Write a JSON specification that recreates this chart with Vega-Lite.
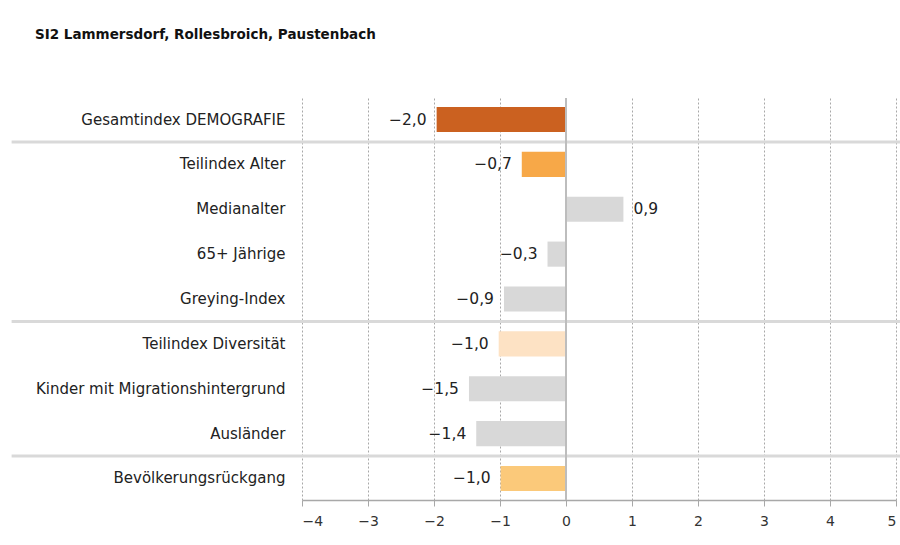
{
  "$schema": "https://vega.github.io/schema/vega-lite/v6.json",
  "autosize": "none",
  "width": 594,
  "height": 402,
  "padding": {"left": 302, "top": 98, "right": 4, "bottom": 45},
  "background": "white",
  "config": {
    "font": "DejaVu Sans",
    "view": {"stroke": null},
    "locale": {"number": {"decimal": ",", "thousands": ".", "grouping": [3], "currency": ["", " €"], "minus": "−"}}
  },
  "title": {
    "text": "SI2 Lammersdorf, Rollesbroich, Paustenbach",
    "anchor": "start",
    "frame": "group",
    "dx": -267,
    "offset": 56,
    "fontSize": 13.5,
    "fontWeight": "bold",
    "color": "#111111"
  },
  "data": {
    "values": [
      {"cat": "Gesamtindex DEMOGRAFIE", "value": -1.96, "sep": "yes"},
      {"cat": "Teilindex Alter", "value": -0.67, "sep": "no"},
      {"cat": "Medianalter", "value": 0.87, "sep": "no"},
      {"cat": "65+ Jährige", "value": -0.28, "sep": "no"},
      {"cat": "Greying-Index", "value": -0.94, "sep": "yes"},
      {"cat": "Teilindex Diversität", "value": -1.02, "sep": "no"},
      {"cat": "Kinder mit Migrationshintergrund", "value": -1.47, "sep": "no"},
      {"cat": "Ausländer", "value": -1.36, "sep": "yes"},
      {"cat": "Bevölkerungsrückgang", "value": -0.99, "sep": "no"}
    ]
  },
  "encoding": {
    "y": {
      "field": "cat",
      "type": "nominal",
      "sort": null,
      "scale": {"paddingInner": 0.44, "paddingOuter": 0.2},
      "axis": {
        "title": null,
        "domain": false,
        "ticks": false,
        "labelFontSize": 15,
        "labelColor": "#222222",
        "labelPadding": 17,
        "labelLimit": 300
      }
    }
  },
  "layer": [
    {
      "mark": {"type": "bar"},
      "encoding": {
        "x": {
          "field": "value",
          "type": "quantitative",
          "scale": {"domain": [-4, 5], "nice": false, "zero": false},
          "axis": {
            "title": null,
            "values": [-4, -3, -2, -1, 0, 1, 2, 3, 4, 5],
            "format": "d",
            "grid": true,
            "gridColor": "#a8a8a8",
            "gridDash": [2, 2],
            "gridWidth": 1,
            "domainColor": "#a8a8a8",
            "domainWidth": 1.5,
            "tickColor": "#a8a8a8",
            "tickSize": 6,
            "tickWidth": 1,
            "labelFontSize": 14,
            "labelColor": "#333333",
            "labelPadding": 8
          }
        },
        "x2": {"datum": 0},
        "color": {
          "field": "cat",
          "type": "nominal",
          "legend": null,
          "scale": {
            "domain": ["Gesamtindex DEMOGRAFIE", "Teilindex Alter", "Medianalter", "65+ Jährige", "Greying-Index", "Teilindex Diversität", "Kinder mit Migrationshintergrund", "Ausländer", "Bevölkerungsrückgang"],
            "range": ["#cb6120", "#f7a848", "#d8d8d8", "#d8d8d8", "#d8d8d8", "#fde2c4", "#d8d8d8", "#d8d8d8", "#fbc97a"]
          }
        }
      }
    },
    {
      "transform": [{"filter": "datum.sep == 'yes'"}],
      "mark": {"type": "rule", "color": "#d9d9d9", "strokeWidth": 3},
      "encoding": {
        "y": {"field": "cat", "type": "nominal", "sort": null, "bandPosition": 1.396},
        "x": {"datum": -8.4},
        "x2": {"datum": 5.1}
      }
    },
    {
      "mark": {"type": "rule", "color": "#bdbdbd", "strokeWidth": 2},
      "encoding": {"x": {"datum": 0}, "y": null}
    },
    {
      "transform": [{"filter": "datum.value < 0"}],
      "mark": {"type": "text", "align": "right", "dx": -10, "fontSize": 15.5, "color": "#222222"},
      "encoding": {
        "x": {"field": "value", "type": "quantitative"},
        "text": {"field": "value", "type": "quantitative", "format": ".1f"}
      }
    },
    {
      "transform": [{"filter": "datum.value >= 0"}],
      "mark": {"type": "text", "align": "left", "dx": 10, "fontSize": 15.5, "color": "#222222"},
      "encoding": {
        "x": {"field": "value", "type": "quantitative"},
        "text": {"field": "value", "type": "quantitative", "format": ".1f"}
      }
    }
  ]
}
